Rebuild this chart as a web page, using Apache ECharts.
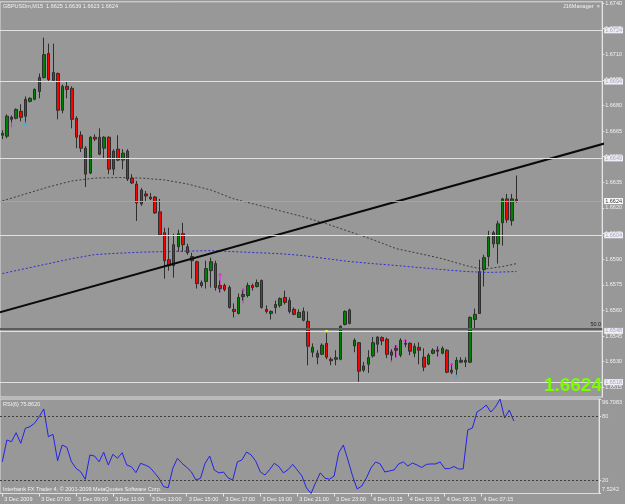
<!DOCTYPE html>
<html><head><meta charset="utf-8">
<script src="https://cdn.jsdelivr.net/npm/echarts@6/dist/echarts.min.js"></script>
<style>html,body{margin:0;padding:0;background:#989898;}#c{width:625px;height:504px;}</style>
</head><body><div id="c"></div>
<script>
// ---------- data ----------
const titleText = 'GBPUSDm,M15  1.6625 1.6639 1.6623 1.6624';
const xTickLabels = ['3 Dec 2009','3 Dec 07:00','3 Dec 09:00','3 Dec 11:00','3 Dec 13:00','3 Dec 15:00','3 Dec 17:00','3 Dec 19:00','3 Dec 21:00','3 Dec 23:00','4 Dec 01:15','4 Dec 03:15','4 Dec 05:15','4 Dec 07:15'];
const priceTicks = [1.6515,1.6530,1.6545,1.6560,1.6575,1.6590,1.6605,1.6620,1.6635,1.6650,1.6665,1.6680,1.6695,1.6710,1.6725,1.6740];
const rsiTicks = [7.5242,20,80,96.7083];
const rsiTickLabels = ['7.5242','20','80','96.7083'];
// [open, close, low, high]
const candles = [
[1.66626,1.66637,1.66603,1.66655],[1.66620,1.66737,1.66608,1.66748],[1.66719,1.66731,1.66702,1.66742],[1.66725,1.66777,1.66719,1.66783],
[1.66766,1.66731,1.66707,1.66807],[1.66737,1.66836,1.66696,1.66853],[1.66824,1.66842,1.66818,1.66848],[1.66836,1.66894,1.66830,1.66900],
[1.66882,1.66964,1.66842,1.66987],[1.66964,1.67098,1.66958,1.67197],[1.67104,1.66952,1.66941,1.67162],[1.66947,1.66993,1.66941,1.67162],
[1.66987,1.66772,1.66719,1.66993],[1.66772,1.66912,1.66754,1.66923],[1.66912,1.66894,1.66842,1.66941],[1.66900,1.66719,1.66666,1.66912],
[1.66725,1.66614,1.66550,1.66737],[1.66626,1.66550,1.66527,1.66649],[1.66550,1.66398,1.66323,1.66562],[1.66404,1.66614,1.66398,1.66620],
[1.66614,1.66603,1.66591,1.66631],[1.66614,1.66515,1.66509,1.66666],[1.66550,1.66614,1.66492,1.66620],[1.66614,1.66427,1.66398,1.66620],
[1.66427,1.66533,1.66392,1.66544],[1.66544,1.66480,1.66474,1.66626],[1.66480,1.66521,1.66427,1.66544],[1.66533,1.66369,1.66358,1.66544],
[1.66375,1.66346,1.66340,1.66398],[1.66340,1.66229,1.66124,1.66358],[1.66224,1.66305,1.66212,1.66317],[1.66282,1.66270,1.66241,1.66299],
[1.66264,1.66253,1.66247,1.66288],[1.66264,1.66171,1.66165,1.66270],[1.66177,1.66043,1.66037,1.66253],[1.66055,1.65891,1.65786,1.66084],
[1.65897,1.65862,1.65833,1.66084],[1.65862,1.65985,1.65792,1.66049],[1.65973,1.66049,1.65944,1.66072],[1.66049,1.65985,1.65944,1.66113],
[1.65973,1.65938,1.65926,1.65990],[1.65915,1.65891,1.65786,1.65938],[1.65885,1.65757,1.65728,1.65891],[1.65746,1.65763,1.65734,1.65775],
[1.65769,1.65845,1.65728,1.65891],[1.65833,1.65885,1.65734,1.65909],[1.65874,1.65734,1.65716,1.65891],[1.65746,1.65728,1.65705,1.65775],
[1.65746,1.65722,1.65711,1.65757],[1.65734,1.65617,1.65611,1.65746],[1.65606,1.65594,1.65559,1.65641],[1.65582,1.65676,1.65577,1.65699],
[1.65681,1.65693,1.65658,1.65716],[1.65687,1.65746,1.65676,1.65763],[1.65746,1.65734,1.65716,1.65757],[1.65740,1.65763,1.65734,1.65781],
[1.65775,1.65617,1.65611,1.65781],[1.65606,1.65594,1.65582,1.65629],[1.65582,1.65594,1.65547,1.65600],[1.65617,1.65635,1.65582,1.65658],
[1.65629,1.65670,1.65617,1.65676],[1.65676,1.65647,1.65635,1.65716],[1.65658,1.65594,1.65582,1.65676],[1.65606,1.65577,1.65571,1.65617],
[1.65559,1.65588,1.65559,1.65606],[1.65594,1.65542,1.65536,1.65617],[1.65536,1.65390,1.65279,1.65594],[1.65355,1.65384,1.65326,1.65407],
[1.65349,1.65326,1.65285,1.65367],[1.65343,1.65396,1.65338,1.65407],[1.65407,1.65326,1.65314,1.65472],[1.65314,1.65305,1.65279,1.65326],
[1.65314,1.65323,1.65279,1.65367],[1.65314,1.65507,1.65308,1.65512],[1.65518,1.65594,1.65512,1.65600],[1.65603,1.65524,1.65518,1.65611],
[1.65392,1.65425,1.65355,1.65437],[1.65411,1.65244,1.65182,1.65415],[1.65250,1.65275,1.65240,1.65298],[1.65285,1.65324,1.65234,1.65367],
[1.65333,1.65411,1.65324,1.65444],[1.65402,1.65444,1.65353,1.65448],[1.65441,1.65421,1.65396,1.65448],[1.65431,1.65343,1.65320,1.65441],
[1.65355,1.65338,1.65308,1.65373],[1.65378,1.65367,1.65326,1.65396],[1.65338,1.65425,1.65326,1.65437],[1.65407,1.65402,1.65384,1.65425],
[1.65407,1.65361,1.65338,1.65413],[1.65349,1.65390,1.65326,1.65407],[1.65384,1.65367,1.65285,1.65413],[1.65326,1.65268,1.65244,1.65378],
[1.65285,1.65338,1.65279,1.65349],[1.65349,1.65367,1.65343,1.65378],[1.65367,1.65361,1.65332,1.65390],[1.65349,1.65378,1.65343,1.65390],
[1.65367,1.65238,1.65232,1.65373],[1.65250,1.65238,1.65227,1.65279],[1.65256,1.65308,1.65221,1.65326],[1.65297,1.65308,1.65291,1.65326],
[1.65297,1.65308,1.65268,1.65326],[1.65297,1.65559,1.65291,1.65565],[1.65547,1.65577,1.65495,1.65611],[1.65582,1.65827,1.65582,1.65897],
[1.65839,1.65909,1.65740,1.65926],[1.65915,1.66031,1.65857,1.66066],[1.66055,1.65990,1.65967,1.66066],[1.65990,1.66107,1.65874,1.66125],
[1.66113,1.66253,1.65979,1.66259],[1.66253,1.66131,1.66113,1.66282],[1.66125,1.66253,1.66096,1.66282],[1.6625,1.6624,1.6623,1.6639]
];
// moving averages: [bar index, value]
const maSlow = [[0,1.66241],[5,1.66282],[10,1.66323],[15,1.66358],[20,1.66375],[25,1.66378],[30,1.66375],[35,1.66364],[40,1.66340],[45,1.66305],[50,1.66253],[55,1.66218],[60,1.66183],[65,1.66148],[70,1.66107],[75,1.66061],[80,1.66014],[85,1.65962],[90,1.65933],[95,1.65903],[100,1.65863],[103,1.65845],[105,1.65845],[108,1.65857],[111,1.65874]];
const maBlue = [[0,1.65816],[5,1.65845],[10,1.65874],[15,1.65903],[20,1.65927],[25,1.65935],[30,1.65941],[35,1.65944],[40,1.65947],[45,1.65950],[50,1.65944],[55,1.65938],[60,1.65932],[65,1.65921],[70,1.65903],[75,1.65886],[80,1.65874],[85,1.65863],[90,1.65851],[95,1.65839],[100,1.65828],[105,1.65822],[111,1.65828]];
const trendLine = [[-1,1.65585],[131,1.66585]];
const hLevels = [1.6724,1.6694,1.6649,1.6604,1.6548,1.6518];
const lastPrice = 1.6624;
const fibo50 = 1.65495;
const fibo618 = 1.6510;
const rsi = [37.5,58,56.4,64.9,54.9,69.1,70.6,73.8,80,87.3,61.1,63.4,38.5,53.3,51.1,37.5,31.3,28.1,20.9,43.9,
42.9,37.5,46.4,34.4,44.5,40.8,46,34.4,32.8,27.2,36,34.4,32.3,27.2,21.9,14,13,31.3,40.8,36,
32.3,28.1,20.3,21.9,36,42.9,29.7,26.9,27.8,22.2,20.3,37.3,39.2,46.7,43.9,38,27.8,25,30,36,
33,27,30,35,29.7,24.1,12.8,7.5242,18,27,22,21,24,46,53.3,39.2,24.1,11.8,14.6,22.2,
31.6,37.3,35.4,27.8,28.8,29.7,35.4,37.3,33.5,36.3,34.4,32,35,35.4,35.4,37.3,31,31,33,30.7,
30.7,67.5,69.3,84.4,87.3,91,84.4,89.2,96.7083,78.8,86.3,75.862];
const rsiLevels = [80,20];
const rsiTitle = 'RSI(6) 75.8620';
// trade arrows: [bar, top price, bottom price]
const arrows = [[2,1.66737,1.66673],[47,1.65816,1.65705],[52,1.65728,1.65641],[84,1.65367,1.65297],[85,1.65396,1.65320],[87,1.65431,1.65407],[94,1.65379,1.65326],[97,1.65291,1.65232]];
const cyanMarks = [[5,1.66696],[98,1.65216]];
const yellowMarks = [[70,1.65478]];
const nCats = 130;

// ---------- chart ----------
const cats = [];
for (let i = 0; i < nCats; i++) cats.push(String(i));
const FONT = 'Liberation Sans';
const txt = '#f2f2f2';
const chart = echarts.init(document.getElementById('c'), null, {renderer:'canvas'});
const boxLabel = (v) => ({show:true, position:'end', distance:2, formatter: v.toFixed(4), fontSize:5.5, fontFamily:FONT,
  color:'#a8a8b8', backgroundColor:'#eeeef6', padding:[0,1,0,1], lineHeight:6});
const levelLines = [
  ...hLevels.map(v=>({yAxis:v, lineStyle:{color:'#e2e2e2', width:1, type:'solid'}, label:boxLabel(v)})),
  {yAxis:lastPrice, lineStyle:{color:'#a6a6a6', width:1, type:'solid'},
    label:{show:true, position:'end', distance:2, formatter:lastPrice.toFixed(4), fontSize:5.5, fontFamily:FONT, color:'#303030', backgroundColor:'#ffffff', padding:[0,1,0,1], lineHeight:6}},
  {yAxis:fibo50, lineStyle:{color:'#5c5c5c', width:2, type:'solid'},
    label:{show:true, position:'insideEndTop', distance:1, formatter:'50.0', fontSize:5.5, fontFamily:FONT, color:'#1e1e1e'}},
  {yAxis:fibo618, lineStyle:{opacity:0},
    label:{show:true, position:'insideEndTop', distance:1, formatter:'61.8', fontSize:5.5, fontFamily:FONT, color:'#1e1e1e'}}
];
const option = {
  animation:false,
  backgroundColor:'#989898',
  grid:[
    {left:0, top:0, width:603, height:397, show:true, borderColor:'#dedede', borderWidth:1, backgroundColor:'transparent'},
    {left:0, top:399, width:603, height:94.5, show:true, borderColor:'#dedede', borderWidth:1, backgroundColor:'transparent'}
  ],
  xAxis:[
    {type:'category', gridIndex:0, data:cats, show:false},
    {type:'category', gridIndex:1, data:cats,
      axisLine:{show:false},
      axisTick:{show:true, alignWithLabel:true, length:3, lineStyle:{color:'#e6e6e6'}, interval:(i)=> i%8===0 && i/8 < xTickLabels.length},
      axisLabel:{show:true, interval:(i)=> i%8===0 && i/8 < xTickLabels.length, formatter:(v,i)=> xTickLabels[i/8] || '',
        align:'left', padding:[0,0,0,2], margin:3, fontSize:5.5, fontFamily:FONT, color:txt}}
  ],
  yAxis:[
    {type:'value', gridIndex:0, position:'right', min:1.65093, max:1.67407, scale:true,
      splitLine:{show:false}, axisLine:{show:true, lineStyle:{color:'#e6e6e6'}},
      axisTick:{show:true, length:2, customValues:priceTicks, lineStyle:{color:'#e6e6e6'}},
      axisLabel:{customValues:priceTicks, formatter:(v)=>v.toFixed(4), fontSize:5.5, fontFamily:FONT, color:txt, margin:3}},
    {type:'value', gridIndex:1, position:'right', min:7.5242, max:96.7083,
      splitLine:{show:false}, axisLine:{show:true, lineStyle:{color:'#e6e6e6'}},
      axisTick:{show:true, length:2, customValues:rsiTicks, lineStyle:{color:'#e6e6e6'}},
      axisLabel:{customValues:rsiTicks, margin:3, fontSize:5.5, fontFamily:FONT, color:txt,
        formatter:(v)=>{const k = rsiTicks.indexOf(v); const s = k>=0 ? rsiTickLabels[k] : String(v);
          if (k===0) return '{b|'+s+'}'; if (k===rsiTicks.length-1) return '{t|'+s+'}'; return s;},
        rich:{t:{fontSize:5.5, fontFamily:FONT, color:txt, padding:[7.5,0,0,0]}, b:{fontSize:5.5, fontFamily:FONT, color:txt, padding:[0,0,8.5,0]}}}}
  ],
  series:[
    {type:'line', name:'levels', xAxisIndex:0, yAxisIndex:0, data:maSlow, showSymbol:false, symbol:'none', silent:true, clip:false,
      lineStyle:{color:'#3c3c3c', width:1, type:[2,2]}, z:1,
      markLine:{symbol:'none', silent:true, animation:false, precision:5, data:levelLines}},
    {type:'line', xAxisIndex:0, yAxisIndex:0, data:maBlue, showSymbol:false, symbol:'none', silent:true,
      lineStyle:{color:'#2c2cd8', width:1, type:[2,2]}},
    {type:'candlestick', xAxisIndex:0, yAxisIndex:0, data:candles, barWidth:3, silent:true,
      itemStyle:{color:'#008000', color0:'#ff0000', borderColor:'#2e2e2e', borderColor0:'#2e2e2e', borderWidth:1}},
    {type:'line', xAxisIndex:0, yAxisIndex:0, data:trendLine, showSymbol:false, symbol:'none', silent:true, clip:true,
      lineStyle:{color:'#0a0a0a', width:2}},
    {type:'custom', xAxisIndex:0, yAxisIndex:0, data:arrows, silent:true, clip:false,
      renderItem:(params, api)=>{
        const a = api.coord([api.value(0), api.value(1)]);
        const b = api.coord([api.value(0), api.value(2)]);
        return {type:'group', children:[
          {type:'line', shape:{x1:a[0], y1:a[1], x2:b[0], y2:b[1]}, style:{stroke:'#e020e0', lineWidth:1}},
          {type:'polyline', shape:{points:[[a[0]-1.5,a[1]+2],[a[0],a[1]],[a[0]+1.5,a[1]+2]]}, style:{stroke:'#e020e0', lineWidth:1, fill:null}}
        ]};
      }},
    {type:'scatter', xAxisIndex:0, yAxisIndex:0, data:cyanMarks, symbol:'triangle', symbolSize:4, silent:true, itemStyle:{color:'#22b8f0'}},
    {type:'scatter', xAxisIndex:0, yAxisIndex:0, data:yellowMarks, symbol:'triangle', symbolRotate:180, symbolSize:4, silent:true, itemStyle:{color:'#ffff30'}},
    {type:'line', xAxisIndex:1, yAxisIndex:1, data:rsi, showSymbol:false, symbol:'none', silent:true,
      lineStyle:{color:'#2323e6', width:1},
      markLine:{symbol:'none', silent:true, animation:false, label:{show:false},
        data: rsiLevels.map(v=>({yAxis:v})), lineStyle:{color:'#3e3e3e', width:1, type:[2,2]}}}
  ],
  graphic:[
    {type:'text', silent:true, style:{text:titleText, x:3, y:6.5, fill:txt, fontSize:5.5, fontFamily:FONT, verticalAlign:'middle'}},
    {type:'text', silent:true, style:{text:'J16Manager  \u00d7', x:563, y:6.5, fill:txt, fontSize:5.5, fontFamily:FONT, verticalAlign:'middle'}},
    {type:'text', silent:true, z:100, style:{text:lastPrice.toFixed(4), x:602, y:386, fill:'#7cfc00', fontSize:19, fontWeight:'bold', fontFamily:FONT, align:'right', verticalAlign:'middle'}},
    {type:'text', silent:true, style:{text:rsiTitle, x:3, y:404.5, fill:txt, fontSize:5.5, fontFamily:FONT, verticalAlign:'middle'}},
    {type:'text', silent:true, style:{text:'Interbank FX Trader 4, \u00a9 2001-2009 MetaQuotes Software Corp.', x:3, y:489, fill:txt, fontSize:5.5, fontFamily:FONT, verticalAlign:'middle'}}
  ]
};
chart.setOption(option);
</script>
</body></html>
